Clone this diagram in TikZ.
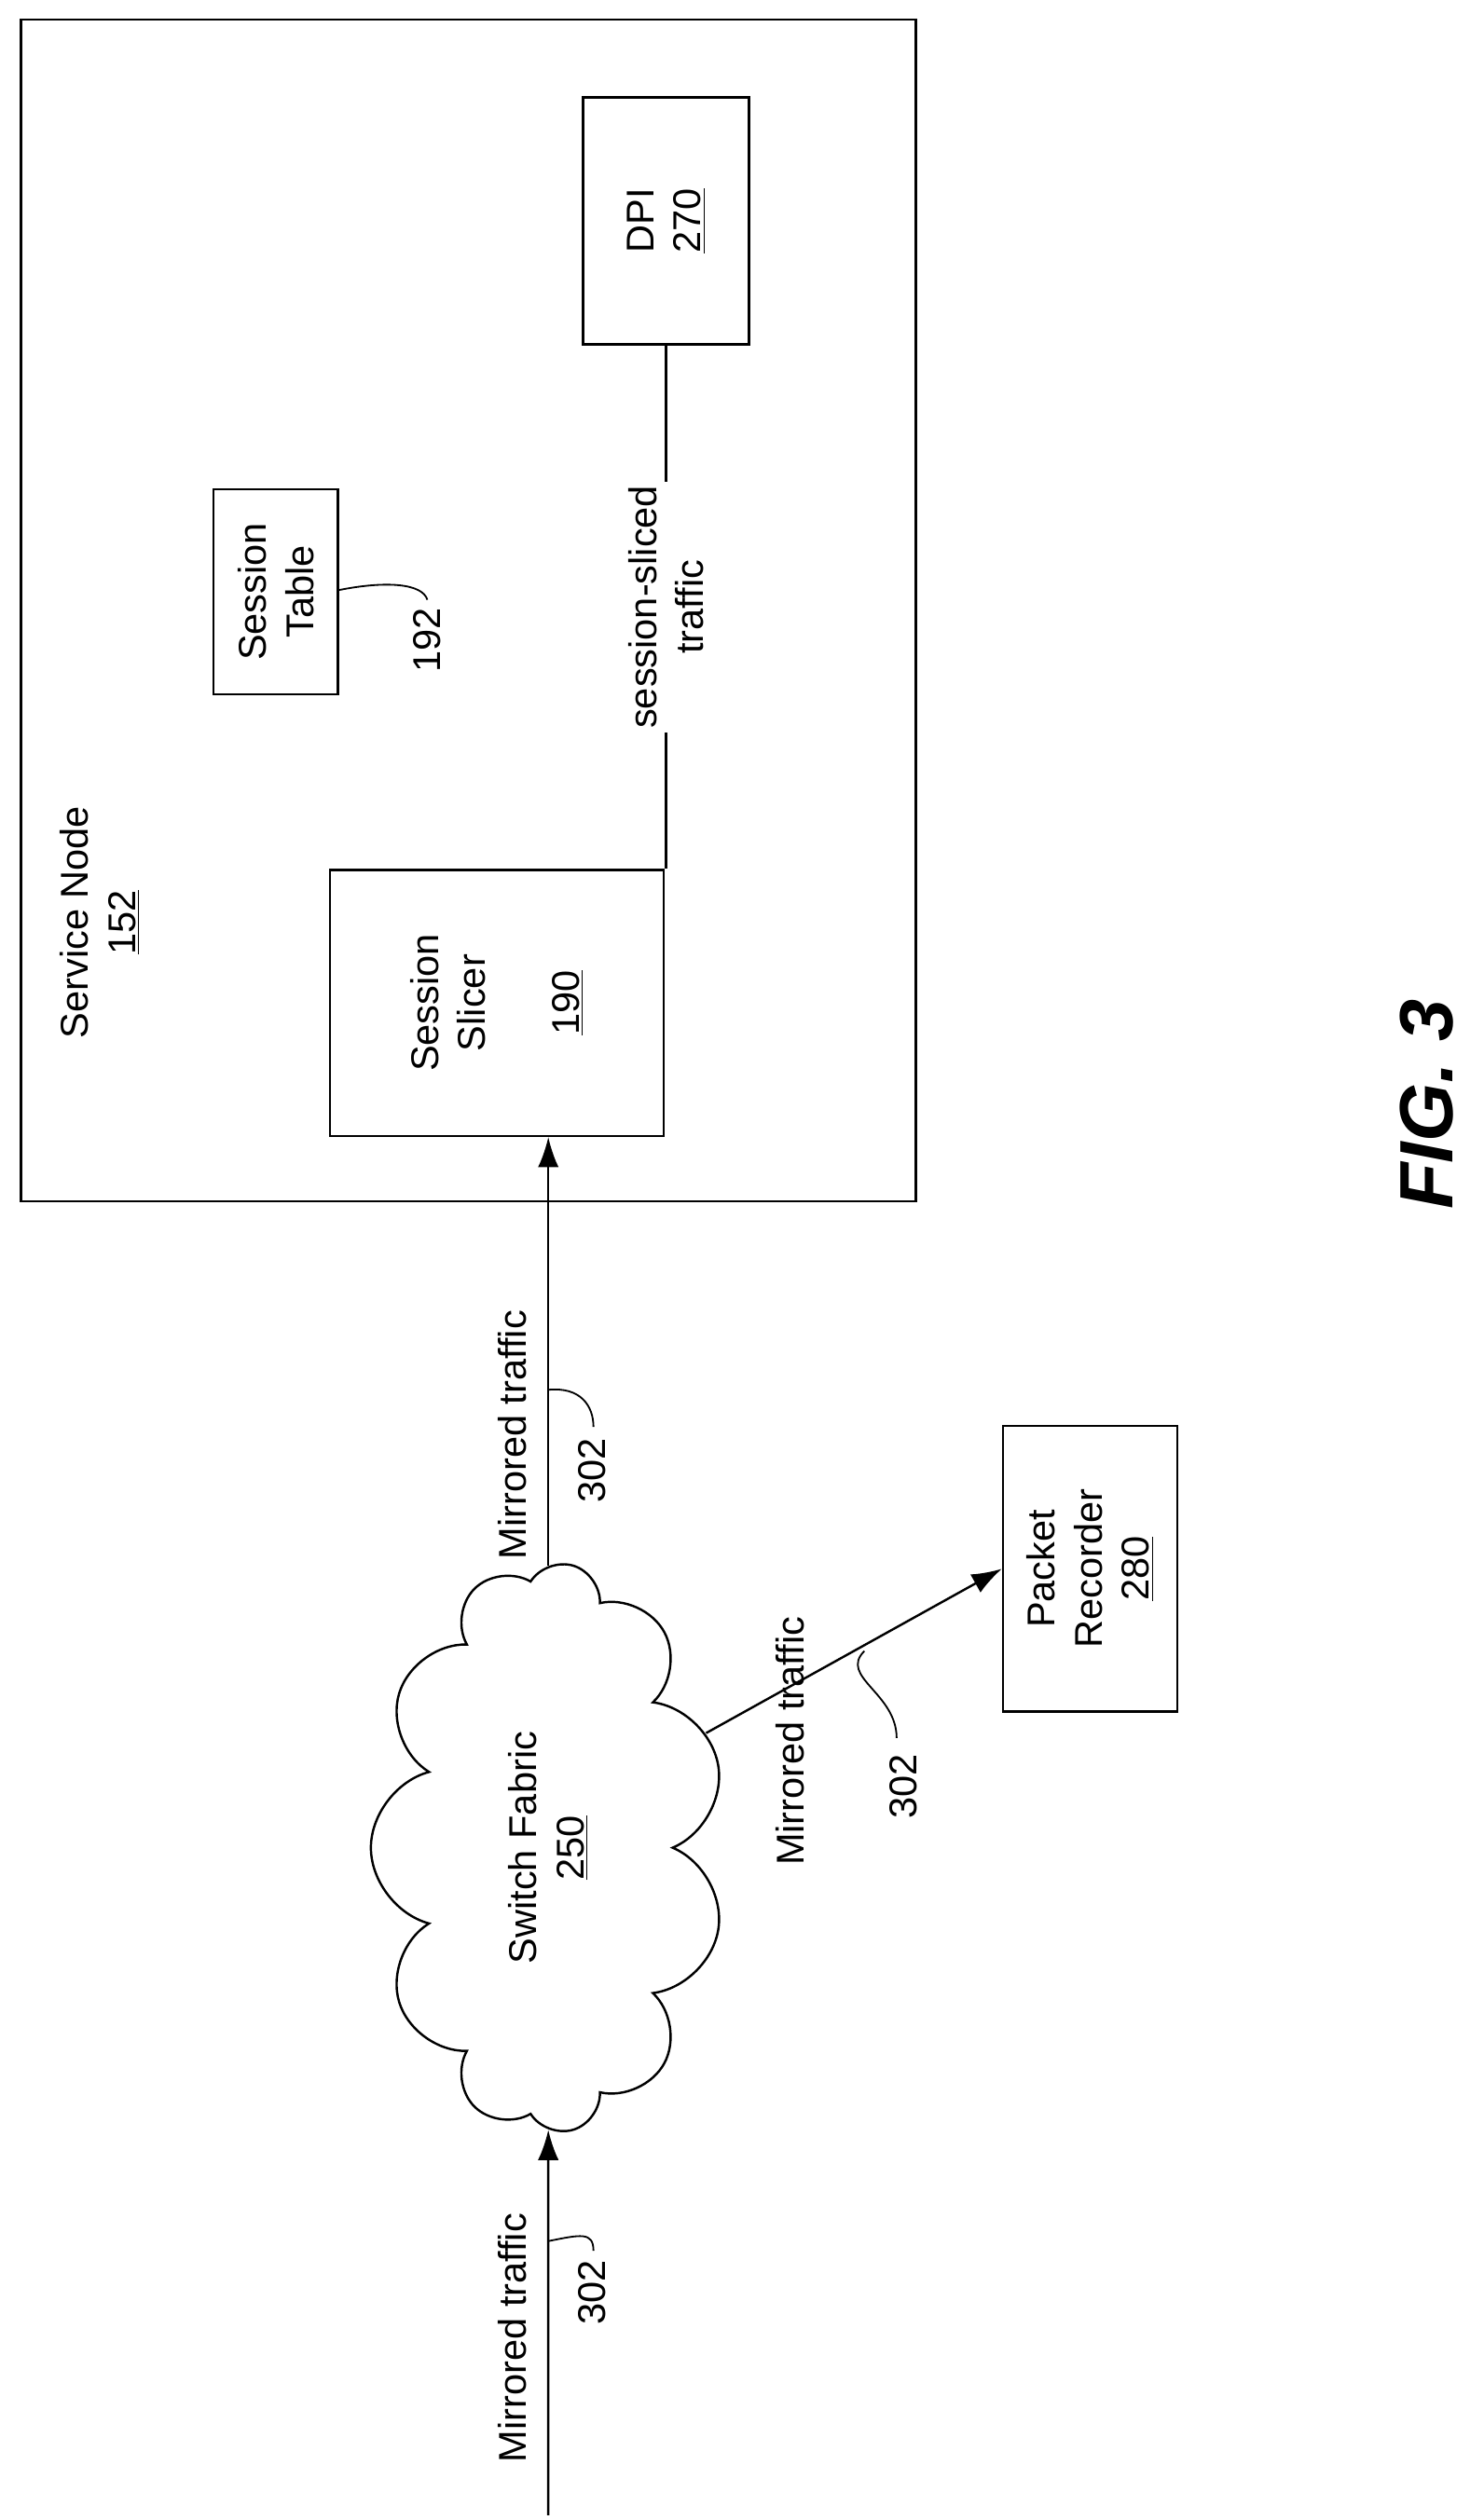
\documentclass[tikz,border=0pt]{standalone}
\usepackage{fontspec}
\setmainfont{Liberation Sans}
\usetikzlibrary{shapes.symbols,arrows.meta}

\begin{document}
\begin{tikzpicture}[x=.03cm,y=-.03cm,
  txt/.style={rotate=90,align=center,font=\fontsize{20.5}{25}\selectfont},
  box/.style={txt,draw,line width=1.2pt,inner sep=0pt},
  flow/.style={line width=1.2pt,-{Latex[length=16pt,width=11pt]}},
  lead/.style={line width=.9pt}]
\path[use as bounding box] (0,0) rectangle (920,1563);
\draw[line width=1.2pt] (13,12) rectangle (568,745);
\node[txt] (sn) at (62,572) {Service Node\\\underline{152}};
\node[box,minimum width=4.59cm,minimum height=3.09cm] (dpi) at (413,137) {DPI\\\underline{270}};
\node[box,minimum width=3.81cm,minimum height=2.31cm] (table) at (171,367) {Session\\Table};
\node[box,minimum width=4.95cm,minimum height=6.21cm] (slicer) at (308,622) {Session\\Slicer\\[1.2em]\underline{190}};
\node[box,minimum width=5.31cm,minimum height=3.24cm] (rec) at (676,973) {Packet\\Recorder\\\underline{280}};
\node[txt,cloud,draw,line width=1.2pt,cloud puffs=11,aspect=1.6,minimum width=10.6cm,minimum height=6.6cm,inner sep=0pt] (fabric) at (340,1146) {Switch Fabric\\\underline{250}};
\coordinate (in) at (340,1560);

% connectors
\draw[line width=1.2pt] (dpi.west) -- (dpi.west |- slicer.east)
  node[txt,midway,fill=white,inner sep=2pt] {session-sliced\\traffic};
\draw[flow] (fabric.east) -- (fabric.east |- slicer.west);
\draw[flow] (in) -- (fabric.west);
\draw[flow] (fabric.-54) -- (rec.north);

% labels
\node[txt] (m1) at (318,890) {Mirrored traffic};
\node[txt] (m2) at (318,1450) {Mirrored traffic};
\node[txt] (m3) at (490,1080) {Mirrored traffic};
\node[txt] (n1) at (367,912) {302};
\node[txt] (n2) at (367,1422) {302};
\node[txt] (n3) at (560,1108) {302};
\node[txt] (n4) at (265,397) {192};
\draw[lead] (340,862) .. controls (360,860) and (368,872) .. (368,885);
\draw[lead] (340,1390) .. controls (360,1386) and (368,1384) .. (368,1396);
\draw[lead] (536,1024) .. controls (520,1040) and (556,1050) .. (556,1078);
\draw[lead] (210,366) .. controls (240,360) and (262,362) .. (265,372);

\node[rotate=90,font=\bfseries\itshape\fontsize{40}{44}\selectfont] (fig) at (885,685) {FIG. 3};
\end{tikzpicture}
\end{document}
